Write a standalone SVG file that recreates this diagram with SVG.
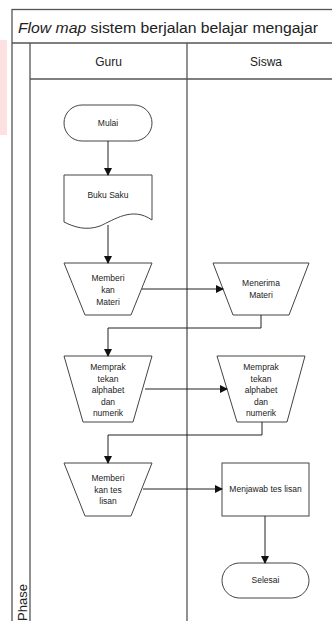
<svg xmlns="http://www.w3.org/2000/svg" width="332" height="621" viewBox="0 0 332 621">
<style>
.frame{fill:none;stroke:#555;stroke-width:1.3}
.shape{fill:#fff;stroke:#444;stroke-width:1}
.conn{fill:none;stroke:#222;stroke-width:1}
.t{font-family:"Liberation Sans",Arial,sans-serif;font-size:8.5px;fill:#222;text-anchor:middle}
.h{font-family:"Liberation Sans",Arial,sans-serif;font-size:12px;fill:#222;text-anchor:middle}
</style>
<defs>
<marker id="arr" markerWidth="8" markerHeight="8" refX="7" refY="4" orient="auto" markerUnits="userSpaceOnUse">
<path d="M0,0 L8,4 L0,8 Z" fill="#111"/>
</marker>
</defs>
<rect x="0" y="0" width="332" height="621" fill="#fff"/>
<rect x="0" y="40" width="7" height="95" fill="#fde0e0"/>
<g id="frame">
<rect class="frame" x="12" y="9.5" width="330" height="620"/>
<line class="frame" x1="12" y1="43" x2="332" y2="43"/>
<line class="frame" x1="30" y1="43" x2="30" y2="621"/>
<line class="frame" x1="30" y1="79" x2="332" y2="79"/>
<line class="frame" x1="187" y1="43" x2="187" y2="621"/>
<text x="18" y="33" font-family="'Liberation Sans',Arial,sans-serif" font-size="15.5" fill="#222" textLength="300" lengthAdjust="spacingAndGlyphs"><tspan font-style="italic">Flow map</tspan> sistem berjalan belajar mengajar</text>
<text class="h" x="108.5" y="66">Guru</text>
<text class="h" x="266" y="66">Siswa</text>
<text x="27" y="621" transform="rotate(-90 27 621)" font-family="'Liberation Sans',Arial,sans-serif" font-size="13" fill="#222">Phase</text>
</g>
<g id="mulai">
<rect class="shape" x="64" y="105" width="88" height="36" rx="18"/>
<text class="t" x="108" y="126">Mulai</text>
</g>
<g id="buku-saku">
<path class="shape" d="M64,175 H152 V220 C132,206 114,220 100,226 C86,231 74,227 64,222 Z"/>
<text class="t" x="108" y="198">Buku Saku</text>
</g>
<g id="memberikan-materi">
<path class="shape" d="M64,263 H152 L131,315 H85 Z"/>
<text class="t" x="108" y="281">Memberi</text>
<text class="t" x="108" y="293">kan</text>
<text class="t" x="108" y="305">Materi</text>
</g>
<g id="menerima-materi">
<path class="shape" d="M213,263 H309 L289,315 H233 Z"/>
<text class="t" x="261" y="286">Menerima</text>
<text class="t" x="261" y="298">Materi</text>
</g>
<g id="mempraktekan-guru">
<path class="shape" d="M64,356 H152 L133,422 H83 Z"/>
<text class="t" x="108" y="370">Memprak</text>
<text class="t" x="108" y="381.5">tekan</text>
<text class="t" x="108" y="393">alphabet</text>
<text class="t" x="108" y="404.5">dan</text>
<text class="t" x="108" y="416">numerik</text>
</g>
<g id="mempraktekan-siswa">
<path class="shape" d="M217,356 H305 L287,422 H237 Z"/>
<text class="t" x="261" y="370">Memprak</text>
<text class="t" x="261" y="381.5">tekan</text>
<text class="t" x="261" y="393">alphabet</text>
<text class="t" x="261" y="404.5">dan</text>
<text class="t" x="261" y="416">numerik</text>
</g>
<g id="memberikan-tes">
<path class="shape" d="M64,463 H152 L131,516 H85 Z"/>
<text class="t" x="108" y="481">Memberi</text>
<text class="t" x="108" y="492.5">kan tes</text>
<text class="t" x="108" y="504">lisan</text>
</g>
<g id="menjawab">
<rect class="shape" x="222" y="463" width="87" height="53"/>
<text class="t" x="265.5" y="492">Menjawab tes lisan</text>
</g>
<g id="selesai">
<rect class="shape" x="222" y="563" width="87" height="35" rx="17.5"/>
<text class="t" x="265.5" y="583">Selesai</text>
</g>
<g id="connectors">
<line class="conn" x1="108" y1="141" x2="108" y2="175" marker-end="url(#arr)"/>
<line class="conn" x1="108" y1="225" x2="108" y2="263" marker-end="url(#arr)"/>
<line class="conn" x1="142" y1="289" x2="223" y2="289" marker-end="url(#arr)"/>
<polyline class="conn" points="261,315 261,328 108,328 108,356" marker-end="url(#arr)"/>
<line class="conn" x1="145" y1="389" x2="227" y2="389" marker-end="url(#arr)"/>
<polyline class="conn" points="262,422 262,435 108,435 108,463" marker-end="url(#arr)"/>
<line class="conn" x1="143" y1="489" x2="222" y2="489" marker-end="url(#arr)"/>
<line class="conn" x1="265" y1="516" x2="265" y2="563" marker-end="url(#arr)"/>
</g>
</svg>
